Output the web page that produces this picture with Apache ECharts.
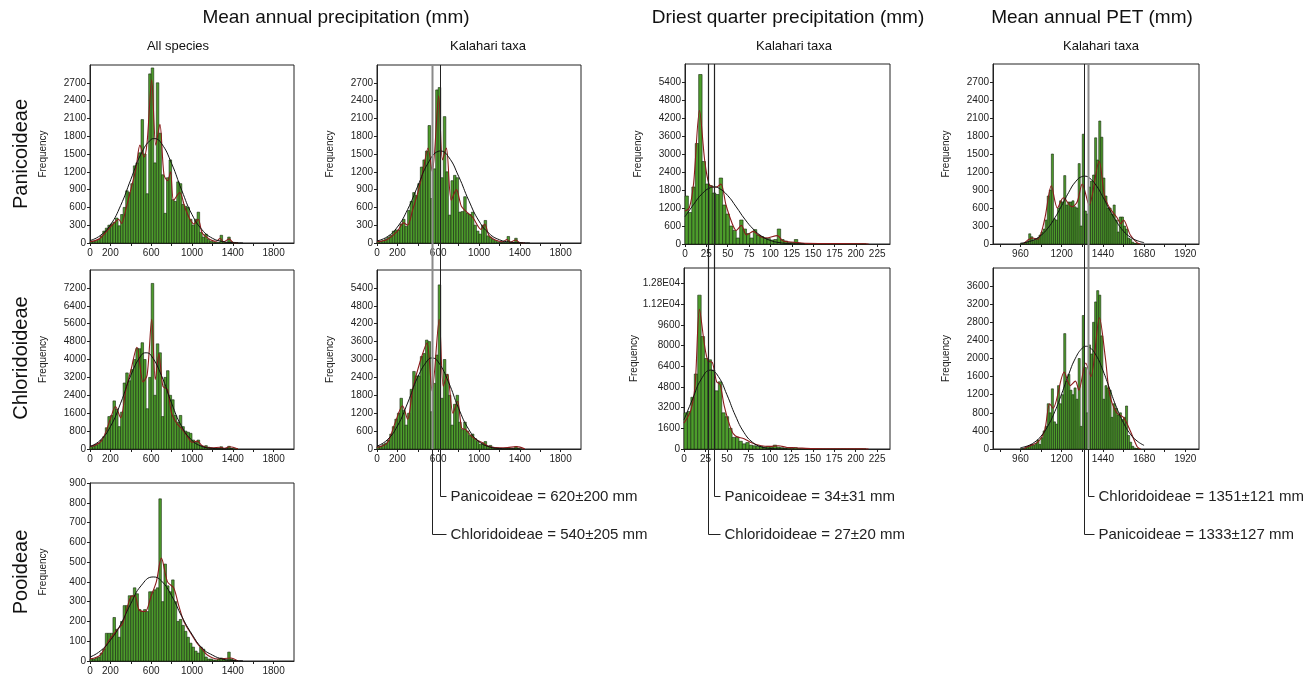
<!DOCTYPE html>
<html>
<head>
<meta charset="utf-8">
<script src="https://cdn.jsdelivr.net/npm/echarts@6/dist/echarts.min.js"></script>
<style>
  html, body { margin: 0; padding: 0; background: #fff; }
  #main { width: 1316px; height: 680px; }
</style>
</head>
<body>
<div id="main"></div>
<script>
// ---- axis ticks / labels ----
const mapTicks = [0, 200, 400, 600, 800, 1000, 1200, 1400, 1600, 1800];
const mapLabels = [0, 200, 600, 1000, 1400, 1800];
const dqpTicks = [0, 25, 50, 75, 100, 125, 150, 175, 200, 225];
const petTicks = [840, 960, 1080, 1200, 1320, 1440, 1560, 1680, 1800, 1920];
const petLabels = [960, 1200, 1440, 1680, 1920];

// ---- histogram counts (bin widths: MAP 25 mm from 0, DQP 4 mm from 0, PET 12 mm from 960) ----
const mapAllPan = [20,30,40,60, 120,200,250,300, 320,350,420,290, 480,600,880,850, 1000,1300,1350,1520,
  2080,1500,830,2850, 2950,1350,2700,1850, 1150,500,1100,1400, 730,700,1030,1000, 650,620,600,400,
  300,400,520,180, 100,150,60,30, 20,10,10,130, 20,10,100,20, 10,5,0,0];
const mapAllChl = [100,130,180,250, 400,550,950,1450, 1500,2150,1780,1000, 1650,2950,3400,3050, 3550,4000,4500,4480,
  4750,4000,1800,3200, 7400,2400,4700,4300, 1450,3200,3500,2400, 2200,1500,1200,1500, 1000,800,750,700,
  400,300,400,150, 100,150,80,50, 30,20,20,100, 20,10,120,20, 10,5,0,0];
const mapAllPoo = [10,10,15,20, 40,60,140,140, 140,220,160,120, 200,280,280,330, 330,370,340,260,
  250,260,250,350, 350,360,370,820, 300,490,380,350, 410,300,200,210, 180,150,120,90,
  70,50,40,70, 60,20,10,10, 5,5,10,15, 10,5,45,10, 5,0,0,0];
const mapKalPan = [20,30,40,70, 100,130,200,220, 220,320,400,280, 550,700,850,800, 1000,1280,1400,1550,
  1980,750,1250,2580, 2620,1100,2130,1200, 470,1050,1140,1100, 520,530,780,500, 480,520,300,200,
  150,300,380,120, 100,60,40,20, 10,10,5,110, 10,5,80,10, 5,0,0,0];
const mapKalChl = [80,100,150,200, 300,500,750,1000, 1200,1700,1300,800, 1200,2000,2600,2450, 2450,3100,3200,3650,
  3600,1250,2200,3150, 5500,1700,3000,2500, 1800,800,1500,1800, 900,650,900,600, 450,500,350,250,
  150,200,250,100, 120,60,40,30, 20,10,10,30, 10,10,80,10, 5,0,0,0];
const dqpPan = [1600,1050,1900,3350,5650,2750,2000,1950,1700,1650, 2200,1300,1000,600,450,200,800,500,350,200,
  480,300,250,200,180,130,150,500,150,100, 50,50,150,20,10,10,10,5,5,5, 5,5,10,5,5,5,10,5,5,5, 5,5,5,0];
const dqpChl = [2800,2900,4000,5800,11900,8700,7000,6900,6100,4500, 5200,2800,2500,1600,900,900,600,400,500,300,
  250,200,200,150,200,150,300,150,100,60, 50,40,100,30,20,20,15,15,10,10, 10,10,10,15,10,10,20,10,10,10, 10,10,5,0];
const petPan = [5,10,20,40,170,120,60,80,100,150, 200,250,400,800,900,1500,420,400,600,720,
  700,1140,650,700,700,720,620,600,1340,300, 1830,550,500,950,1050,1150,1770,1400,2050,1780,
  1100,800,600,600,500,650,400,200,450,450, 300,250,100,80,30,10,5,0,0,0];
const petChl = [5,10,20,50,60,100,80,120,200,100, 250,400,500,1000,800,1330,600,550,1400,1000,
  1200,2550,1500,1650,1300,1200,1350,1100,2000,500, 2950,1800,800,2300,2100,2800,3250,3500,3400,2500,
  1100,1400,1350,1300,700,1000,900,750,800,650, 700,950,300,150,60,20,10,5,0,0];

// ---- fitted normal curves ----
const normAllPan = [[0,40],[100,125],[200,305],[300,630],[400,1070],[500,1500],[600,1745],[630,1760],[700,1680],[800,1340],[900,885],[1000,480],[1100,220],[1200,80],[1300,25],[1400,6],[1500,1]];
const normAllChl = [[0,115],[100,385],[200,1000],[300,2045],[400,3290],[500,4175],[550,4300],[600,4175],[700,3290],[800,2045],[900,1000],[1000,385],[1100,115],[1200,28],[1300,5],[1400,1]];
const normAllPoo = [[0,20],[100,50],[200,105],[300,185],[400,290],[500,380],[620,425],[700,405],[800,330],[900,225],[1000,135],[1100,65],[1200,30],[1300,10],[1400,3],[1500,1]];
const normKalPan = [[0,35],[100,105],[200,270],[300,565],[400,960],[500,1345],[600,1545],[620,1550],[700,1455],[800,1125],[900,715],[1000,370],[1100,160],[1200,55],[1300,16],[1400,4],[1500,1]];
const normKalChl = [[0,95],[100,305],[200,770],[300,1540],[400,2415],[500,2990],[540,3050],[600,2920],[700,2250],[800,1365],[900,655],[1000,245],[1100,75],[1200,17],[1300,4],[1400,1]];
const normDqpPan = [[0,910],[10,1315],[20,1675],[30,1880],[34,1900],[40,1855],[50,1615],[60,1235],[70,830],[80,495],[90,255],[100,118],[110,48],[120,17],[130,5],[140,1]];
const normDqpChl = [[0,2260],[10,3865],[20,5385],[31,6100],[40,5610],[50,4200],[60,2560],[70,1270],[80,510],[90,165],[100,45],[110,10],[120,2]];
const normPetPan = [[960,13],[1000,33],[1040,72],[1080,145],[1120,265],[1160,435],[1200,640],[1240,855],[1280,1035],[1320,1125],[1333,1130],[1360,1105],[1400,980],[1440,785],[1480,565],[1520,370],[1560,215],[1600,115],[1640,55],[1680,24]];
const normPetChl = [[960,28],[1000,67],[1040,145],[1080,285],[1120,510],[1160,825],[1200,1220],[1240,1640],[1280,2005],[1320,2230],[1345,2270],[1360,2255],[1400,2075],[1440,1740],[1480,1325],[1520,915],[1560,580],[1600,330],[1640,175],[1680,80]];

// ---- kernel density curves (red) ----
const kdeAllPan = [[0,20],[50,40],[100,80],[150,170],[200,270],[250,360],[280,400],[310,330],[350,560],[400,900],[450,1250],[490,1650],[530,1450],[560,1700],[605,2750],[645,1650],[685,2000],[725,1150],[760,1050],[790,1200],[820,720],[880,850],[930,600],[980,400],[1020,320],[1060,400],[1100,170],[1150,90],[1200,40],[1240,30],[1275,80],[1310,20],[1365,70],[1400,10],[1450,0]];
const kdeAllChl = [[0,100],[100,300],[150,700],[200,1350],[250,1900],[300,1400],[350,2600],[400,3500],[460,4550],[520,3000],[560,3300],[605,5800],[640,3100],[675,4250],[715,2800],[760,2650],[800,1600],[850,1150],[900,900],[950,600],[1000,300],[1050,350],[1100,150],[1200,50],[1275,80],[1320,30],[1370,100],[1450,0]];
const kdeAllPoo = [[0,10],[100,30],[180,100],[270,160],[320,190],[400,325],[440,330],[480,260],[540,250],[600,330],[650,400],[700,520],[760,400],[820,370],[870,280],[920,200],[1000,130],[1050,90],[1100,60],[1150,30],[1250,10],[1380,15],[1450,0]];
const kdeKalPan = [[0,20],[100,60],[200,200],[260,340],[300,300],[350,560],[400,850],[450,1200],[500,1600],[542,1200],[605,2480],[642,1400],[680,1600],[728,720],[778,900],[827,620],[876,530],[940,430],[1020,230],[1055,320],[1100,120],[1160,50],[1230,20],[1275,60],[1310,15],[1360,50],[1400,5],[1450,0]];
const kdeKalChl = [[0,50],[100,200],[180,900],[250,1450],[300,1000],[350,2000],[420,2900],[490,3550],[540,1950],[610,4350],[650,2100],[690,2500],[745,1200],[790,1600],[830,700],[870,650],[920,450],[980,300],[1040,200],[1100,80],[1200,40],[1280,50],[1370,80],[1450,0]];
const kdeDqpPan = [[0,1100],[5,1200],[10,2000],[17,4450],[23,2800],[28,2000],[33,1900],[37,1900],[42,2000],[48,1300],[55,700],[60,450],[66,620],[72,300],[80,420],[88,250],[95,200],[108,280],[115,100],[128,60],[140,20],[210,10],[215,0]];
const kdeDqpChl = [[0,2000],[8,3000],[13,5000],[18,10800],[24,8000],[28,6800],[33,6700],[38,5200],[42,5000],[47,3300],[55,1500],[60,1000],[70,800],[78,500],[90,250],[100,200],[110,250],[120,120],[130,100],[150,30],[200,10],[215,0]];
const kdePetPan = [[980,10],[1000,60],[1030,100],[1060,80],[1100,400],[1140,970],[1175,600],[1210,770],[1260,620],[1290,700],[1320,1000],[1360,650],[1418,1380],[1450,800],[1480,600],[1520,450],[1545,340],[1560,400],[1600,150],[1640,20],[1660,0]];
const kdePetChl = [[980,10],[1000,50],[1060,150],[1100,400],[1130,1000],[1150,900],[1215,1700],[1250,1400],[1280,1500],[1300,1300],[1340,1900],[1370,1600],[1420,2900],[1455,2000],[1480,1200],[1520,800],[1560,700],[1600,400],[1640,50],[1660,0]];

// ---- group means ± sd (Kalahari taxa) ----
const mapNames = ['Panicoideae', 'Chloridoideae'];
const mapMeans = [620, 540];
const mapSds = [200, 205];
const dqpNames = ['Panicoideae', 'Chloridoideae'];
const dqpMeans = [34, 27];
const dqpSds = [31, 20];
const petNames = ['Chloridoideae', 'Panicoideae'];
const petMeans = [1351, 1333];
const petSds = [121, 127];

const FONT = '"Liberation Sans", Arial, sans-serif';
const INK = '#222';

const xKinds = {
  map: { min: 0, max: 2000, start: 0, bin: 25, ticks: mapTicks, labels: mapLabels },
  dqp: { min: 0, max: 240, start: 0, bin: 4, ticks: dqpTicks, labels: dqpTicks },
  pet: { min: 800, max: 2000, start: 960, bin: 12, ticks: petTicks, labels: petLabels }
};

// [left, top, width, height]
const panels = [
  { box: [90, 65, 204, 178],  kind: 'map', bins: mapAllPan, yMax: 3000,  yStep: 300,  norm: normAllPan, kde: kdeAllPan },
  { box: [377, 65, 204, 178], kind: 'map', bins: mapKalPan, yMax: 3000,  yStep: 300,  norm: normKalPan, kde: kdeKalPan },
  { box: [685, 64, 205, 180], kind: 'dqp', bins: dqpPan,    yMax: 6000,  yStep: 600,  norm: normDqpPan, kde: kdeDqpPan },
  { box: [993, 64, 206, 180], kind: 'pet', bins: petPan,    yMax: 3000,  yStep: 300,  norm: normPetPan, kde: kdePetPan },
  { box: [90, 270, 204, 179], kind: 'map', bins: mapAllChl, yMax: 8000,  yStep: 800,  norm: normAllChl, kde: kdeAllChl },
  { box: [377, 270, 204, 179],kind: 'map', bins: mapKalChl, yMax: 6000,  yStep: 600,  norm: normKalChl, kde: kdeKalChl },
  { box: [684, 268, 206, 181],kind: 'dqp', bins: dqpChl,    yMax: 14000, yStep: 1600, norm: normDqpChl, kde: kdeDqpChl, sci: true },
  { box: [993, 268, 206, 181],kind: 'pet', bins: petChl,    yMax: 4000,  yStep: 400,  norm: normPetChl, kde: kdePetChl },
  { box: [90, 483, 204, 178], kind: 'map', bins: mapAllPoo, yMax: 900,   yStep: 100,  norm: normAllPoo, kde: kdeAllPoo, showMax: true }
];

// mean-line annotation columns
const annots = [
  { col: 1, names: mapNames, means: mapMeans, sds: mapSds, colors: ['#222', '#8a8a8a'], widths: [1, 2] },
  { col: 2, names: dqpNames, means: dqpMeans, sds: dqpSds, colors: ['#222', '#222'], widths: [1.2, 1.2] },
  { col: 3, names: petNames, means: petMeans, sds: petSds, colors: ['#8a8a8a', '#222'], widths: [2, 1] }
];
const annotY = [496, 534];

const grids = [], xAxes = [], yAxes = [], series = [];

function plain(v) { return String(v); }
function sciLabel(v) { return v >= 10000 ? (v / 10000).toFixed(2) + 'E04' : String(v); }

function barRender(bin) {
  return function (params, api) {
    const s = api.value(0), v = api.value(1);
    const p0 = api.coord([s, 0]);
    const p1 = api.coord([s + bin, v]);
    return {
      type: 'rect',
      shape: { x: p0[0], y: p1[1], width: p1[0] - p0[0], height: p0[1] - p1[1] },
      style: { fill: '#4d9d2c', stroke: '#18290f', lineWidth: 0.6 }
    };
  };
}

panels.forEach(function (p, i) {
  const k = xKinds[p.kind];
  grids.push({ left: p.box[0], top: p.box[1], width: p.box[2], height: p.box[3],
    show: true, borderColor: INK, borderWidth: 1, backgroundColor: '#fff', outerBoundsMode: 'none' });
  xAxes.push({
    gridIndex: i, type: 'value', min: k.min, max: k.max,
    axisLine: { show: true, lineStyle: { color: INK, width: 1 } },
    axisTick: { show: true, length: 3, customValues: k.ticks, lineStyle: { color: INK } },
    axisLabel: { customValues: k.labels, fontSize: 10, margin: 5, color: INK, fontFamily: FONT, formatter: plain },
    splitLine: { show: false }
  });
  yAxes.push({
    gridIndex: i, type: 'value', min: 0, max: p.yMax, interval: p.yStep,
    name: 'Frequency', nameLocation: 'middle', nameGap: 42, nameRotate: 90,
    nameTextStyle: { fontSize: 10, color: INK, fontFamily: FONT },
    axisLine: { show: true, lineStyle: { color: INK, width: 1 } },
    axisTick: { show: true, length: 3, lineStyle: { color: INK } },
    axisLabel: {
      fontSize: 10, margin: 4, color: INK, fontFamily: FONT, showMaxLabel: !!p.showMax,
      formatter: p.sci ? sciLabel : plain
    },
    splitLine: { show: false }
  });
  series.push({
    type: 'custom', xAxisIndex: i, yAxisIndex: i, renderItem: barRender(k.bin),
    data: p.bins.map(function (v, j) { return [k.start + j * k.bin, v]; }).filter(function (d) { return d[1] > 0; }),
    silent: true, z: 2
  });
  series.push({
    type: 'line', xAxisIndex: i, yAxisIndex: i, data: p.kde, smooth: 0.3, showSymbol: false,
    lineStyle: { color: '#8b1c1c', width: 1.1 }, silent: true, z: 3
  });
  series.push({
    type: 'line', xAxisIndex: i, yAxisIndex: i, data: p.norm, smooth: true, showSymbol: false,
    lineStyle: { color: '#111', width: 1 }, silent: true, z: 4
  });
});

// overlay grids for the mean lines and their labels
annots.forEach(function (a) {
  const p = panels[a.col];
  const k = xKinds[p.kind];
  const gi = grids.length;
  const rightMost = Math.max.apply(null, a.means);
  const rowBottom = panels[a.col + 4].box[1] + panels[a.col + 4].box[3];
  grids.push({ left: p.box[0], top: 64, width: p.box[2], height: 480, show: false, outerBoundsMode: 'none' });
  xAxes.push({ gridIndex: gi, type: 'value', min: k.min, max: k.max, show: false });
  yAxes.push({ gridIndex: gi, type: 'value', min: 0, max: 1, show: false });
  series.push({
    type: 'custom', xAxisIndex: gi, yAxisIndex: gi, z: 20, silent: true, clip: false,
    data: a.means.map(function (m, j) { return [m, j]; }),
    renderItem: function (params, api) {
      const j = params.dataIndex;
      const x = Math.round(api.coord([api.value(0), 0])[0]) + 0.5;
      const xr = Math.round(api.coord([rightMost, 0])[0]) + 0.5;
      const yEnd = annotY[j] + 0.5;
      return {
        type: 'group',
        children: [
          { type: 'line', shape: { x1: x, y1: p.box[1], x2: x, y2: rowBottom },
            style: { stroke: a.colors[j], lineWidth: a.widths[j] } },
          { type: 'line', shape: { x1: x, y1: rowBottom, x2: x, y2: yEnd },
            style: { stroke: INK, lineWidth: 1 } },
          { type: 'line', shape: { x1: x, y1: yEnd, x2: xr + 6, y2: yEnd },
            style: { stroke: INK, lineWidth: 1 } },
          { type: 'text', x: xr + 10, y: yEnd,
            style: { text: a.names[j] + ' = ' + a.means[j] + '\u00b1' + a.sds[j] + ' mm',
              fontSize: 15, fontFamily: FONT, fill: INK, verticalAlign: 'middle', align: 'left' } }
        ]
      };
    }
  });
});

function txt(x, y, s, size, rot) {
  return { type: 'text', x: x, y: y, rotation: rot || 0, silent: true,
    style: { text: s, fontSize: size, fontFamily: FONT, fill: '#111', align: 'center', verticalAlign: 'middle' } };
}

const chart = echarts.init(document.getElementById('main'), null, { renderer: 'canvas' });
chart.setOption({
  animation: false,
  backgroundColor: '#fff',
  grid: grids,
  xAxis: xAxes,
  yAxis: yAxes,
  series: series,
  graphic: [
    txt(336, 18, 'Mean annual precipitation (mm)', 19),
    txt(788, 18, 'Driest quarter precipitation (mm)', 19),
    txt(1092, 18, 'Mean annual PET (mm)', 19),
    txt(178, 46, 'All species', 13),
    txt(488, 46, 'Kalahari taxa', 13),
    txt(794, 46, 'Kalahari taxa', 13),
    txt(1101, 46, 'Kalahari taxa', 13),
    txt(21, 154, 'Panicoideae', 20, Math.PI / 2),
    txt(21, 358, 'Chloridoideae', 20, Math.PI / 2),
    txt(21, 572, 'Pooideae', 20, Math.PI / 2)
  ]
});
</script>
</body>
</html>
